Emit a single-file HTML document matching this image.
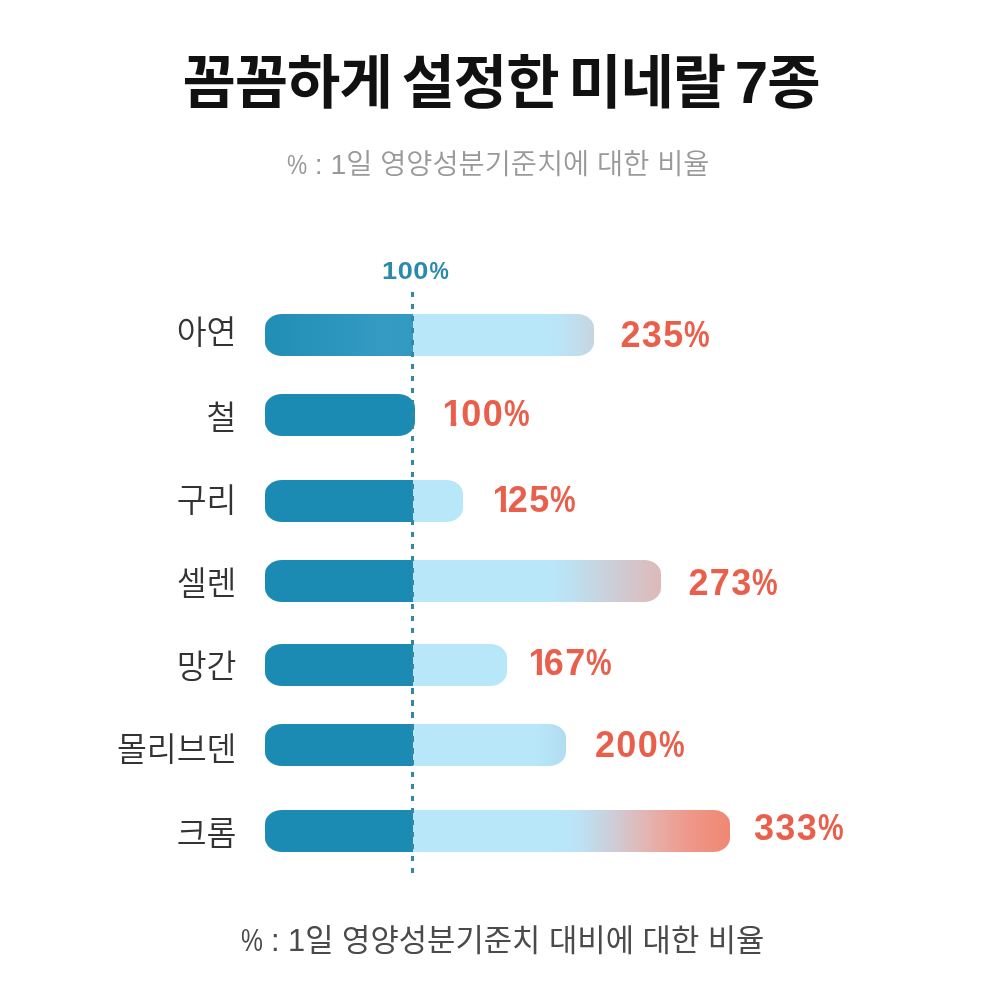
<!DOCTYPE html>
<html lang="ko">
<head>
<meta charset="utf-8">
<title>꼼꼼하게 설정한 미네랄 7종</title>
<style>
html,body{margin:0;padding:0;}
body{width:1000px;height:1000px;background:#fff;position:relative;overflow:hidden;
  font-family:"Liberation Sans","Noto Sans CJK KR",sans-serif;}
.abs{position:absolute;white-space:nowrap;}
#title{left:0;width:1002px;text-align:center;top:41px;font-size:58px;font-weight:700;color:#111;line-height:84px;letter-spacing:-1px;word-spacing:-5.5px;}
#title b{font-size:60px;font-weight:700;}
#sub{left:0;width:996px;text-align:center;top:144px;font-size:28.4px;font-weight:350;color:#999;line-height:40px;}
#foot{left:0;width:1005px;text-align:center;top:919px;font-size:30.8px;font-weight:400;color:#4a4a4a;line-height:44px;}
.lt .pc{display:inline-block;transform:scaleX(.8);transform-origin:0 50%;margin-right:-0.178em;}
#hundred{left:382px;top:258px;font-size:24px;font-weight:700;color:#2b89ad;line-height:26px;letter-spacing:0.5px;transform:scaleX(1.13);transform-origin:0 50%;}
#hundred .pc{display:inline-block;transform:scaleX(.8);transform-origin:0 50%;letter-spacing:0;}
.lab{right:763.5px;font-size:32.5px;font-weight:350;color:#333;line-height:42px;height:42px;}
.bar{left:265px;height:42px;border-radius:17px / 14px;background:#1c8bb3;}
.val{font-size:36px;font-weight:700;color:#ea5f4b;line-height:42px;height:42px;letter-spacing:1.3px;}
.val .pc{display:inline-block;transform:scaleX(.8);transform-origin:0 50%;letter-spacing:0;}
.val .one{display:inline-block;line-height:42px;margin-right:-6px;clip-path:polygon(0 0,13.8px 0,13.8px 100%,8.2px 100%,8.2px 28.4px,0 28.4px);}
#dash{left:411.2px;top:291.5px;width:2.5px;height:581.5px;
  background:repeating-linear-gradient(180deg,#3488a4 0,#3488a4 5.5px,transparent 5.5px,transparent 12px);}
</style>
</head>
<body>
<div id="title" class="abs">꼼꼼하게 설정한 미네랄 <b>7</b>종</div>
<div id="sub" class="abs"><span class="lt"><span class="pc">%</span> : 1</span>일 영양성분기준치에 대한 비율</div>
<div id="hundred" class="abs">100<span class="pc">%</span></div>

<div class="abs lab" style="top:312px">아연</div>
<div class="abs bar" style="top:314px;width:329px;background:linear-gradient(90deg,#218eb6 0,#2a94bc 60px,#359bc3 120px,#3299c1 148px,rgb(184,231,250) 148px,rgb(184,231,250) 280px,rgb(187,228,246) 295px,rgb(192,222,237) 310px,rgb(198,213,224) 329px)"></div>
<div class="abs val" style="top:314px;left:620.5px">235<span class="pc">%</span></div>

<div class="abs lab" style="top:397px">철</div>
<div class="abs bar" style="top:394px;width:150px"></div>
<div class="abs val" style="top:393px;left:442.5px"><span class="one" style="margin-right:-2.5px">1</span>00<span class="pc">%</span></div>

<div class="abs lab" style="top:480px">구리</div>
<div class="abs bar" style="top:480px;width:198px;background:linear-gradient(90deg,#1c8bb3 0,#1c8bb3 148px,rgb(184,231,250) 148px,rgb(184,231,250) 198px)"></div>
<div class="abs val" style="top:479px;left:492.5px"><span class="one">1</span>25<span class="pc">%</span></div>

<div class="abs lab" style="top:563px">셀렌</div>
<div class="abs bar" style="top:560px;width:396px;background:linear-gradient(90deg,#1c8bb3 0,#1c8bb3 148px,rgb(184,231,250) 148px,rgb(184,231,250) 283px,rgb(188,225,243) 305px,rgb(196,215,228) 327px,rgb(203,207,217) 345px,rgb(210,200,207) 363px,rgb(217,192,194) 380px,rgb(222,185,183) 396px)"></div>
<div class="abs val" style="top:562px;left:688.5px">273<span class="pc">%</span></div>

<div class="abs lab" style="top:646px">망간</div>
<div class="abs bar" style="top:644px;width:242px;background:linear-gradient(90deg,#1c8bb3 0,#1c8bb3 148px,rgb(184,231,250) 148px,rgb(184,231,250) 242px)"></div>
<div class="abs val" style="top:642px;left:528.5px"><span class="one">1</span>67<span class="pc">%</span></div>

<div class="abs lab" style="top:729px">몰리브덴</div>
<div class="abs bar" style="top:724px;width:301px;background:linear-gradient(90deg,#1c8bb3 0,#1c8bb3 148px,rgb(184,231,250) 148px,rgb(184,231,250) 270px,rgb(178,220,239) 301px)"></div>
<div class="abs val" style="top:724px;left:595px">200<span class="pc">%</span></div>

<div class="abs lab" style="top:813px">크롬</div>
<div class="abs bar" style="top:810px;width:465px;background:linear-gradient(90deg,#1c8bb3 0,#1c8bb3 148px,rgb(184,231,250) 148px,rgb(184,231,250) 291px,rgb(186,229,248) 305px,rgb(190,223,240) 319px,rgb(198,213,226) 335px,rgb(207,203,212) 351px,rgb(224,185,185) 375px,rgb(233,168,160) 399px,rgb(238,153,138) 423px,rgb(240,142,124) 447px,rgb(241,135,116) 465px)"></div>
<div class="abs val" style="top:807px;left:754px">333<span class="pc">%</span></div>

<div id="dash" class="abs"></div>

<div id="foot" class="abs"><span class="lt"><span class="pc">%</span> : 1</span>일 영양성분기준치 대비에 대한 비율</div>
</body>
</html>
